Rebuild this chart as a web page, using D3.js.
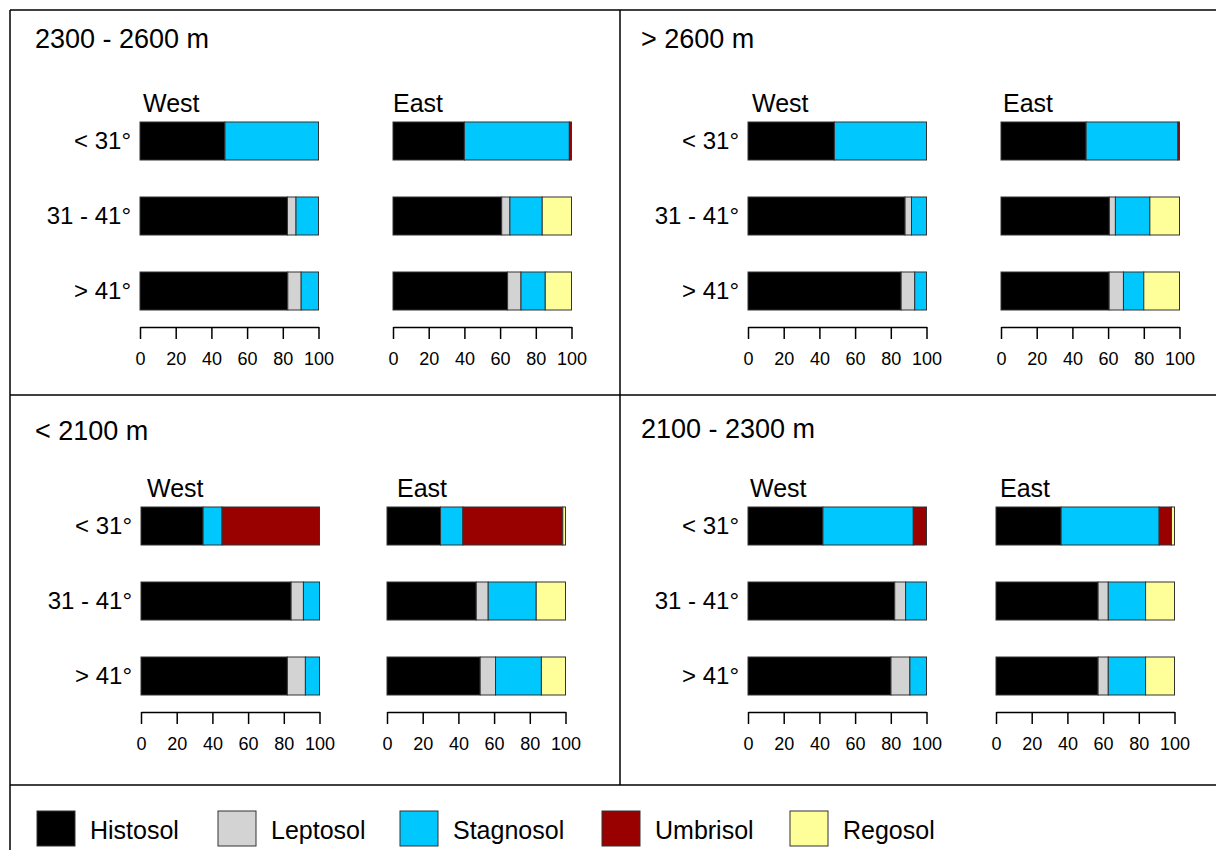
<!DOCTYPE html>
<html lang="en">
<head>
  <meta charset="UTF-8">
  <title>Soil types by altitude, aspect and slope</title>
  <script src="https://d3js.org/d3.v7.min.js"></script>
  <style>
    * { box-sizing: border-box; }
    body {
      margin: 0;
      background: #fff;
      font-family: 'Liberation Sans', Arial, sans-serif;
    }
    svg { display: block; }
    .axis path, .axis line {
      stroke: #000;
      stroke-width: 1.5;
    }
    .axis text {
      font-size: 18px;
      fill: #000;
      font-family: 'Liberation Sans', Arial, sans-serif;
    }
  </style>
</head>
<body>
  <svg id="chart" width="1216" height="850"></svg>

  <script>
    // --- data (percent of plots per soil group) ---
    const soils = ["Histosol", "Leptosol", "Stagnosol", "Umbrisol", "Regosol"];
    const soilColors = ["#000000", "#d3d3d3", "#00c8ff", "#990000", "#ffff99"];
    const slopes = ["< 31°", "31 - 41°", "> 41°"];
    const aspects = ["West", "East"];
    const zones = ["2300 - 2600 m", "> 2600 m", "< 2100 m", "2100 - 2300 m"];
    const tickValues = [0, 20, 40, 60, 80, 100];

    // rows = slope classes, columns = soils (same order as above)
    const z2300West = [[47.6, 0, 52.4, 0, 0], [82.6, 4.8, 12.6, 0, 0], [82.8, 7.5, 9.7, 0, 0]];
    const z2300East = [[40.0, 0, 58.8, 1.2, 0], [60.9, 4.6, 18.1, 0, 16.4], [64.2, 7.5, 13.6, 0, 14.7]];
    const z2600West = [[48.4, 0, 51.6, 0, 0], [88.0, 3.6, 8.4, 0, 0], [85.8, 7.6, 6.6, 0, 0]];
    const z2600East = [[47.7, 0, 51.4, 0.9, 0], [60.7, 3.4, 19.3, 0, 16.6], [60.6, 8.0, 11.4, 0, 20.0]];
    const z2100West = [[34.8, 0, 10.6, 54.6, 0], [84.1, 6.9, 9.0, 0, 0], [82.0, 10.1, 7.9, 0, 0]];
    const z2100East = [[30.0, 0, 12.5, 56.0, 1.5], [50.0, 6.7, 26.9, 0, 16.4], [52.2, 8.6, 25.7, 0, 13.5]];
    const zMidWest = [[42.0, 0, 50.6, 7.4, 0], [82.2, 6.1, 11.7, 0, 0], [80.1, 10.6, 9.3, 0, 0]];
    const zMidEast = [[36.5, 0, 54.9, 6.9, 1.7], [57.2, 5.7, 20.9, 0, 16.2], [57.2, 5.7, 20.9, 0, 16.2]];

    const zoneData = [
      [z2300West, z2300East],
      [z2600West, z2600East],
      [z2100West, z2100East],
      [zMidWest, zMidEast]
    ];

    // --- layout ---
    const panels = [
      { x: 10,  y: 10,  titleX: 35,  titleY: 48,  groupX: [140, 393], labelDx: [3, 0] },
      { x: 619, y: 10,  titleX: 641, titleY: 48,  groupX: [748, 1001], labelDx: [4, 2] },
      { x: 10,  y: 395, titleX: 35,  titleY: 440, groupX: [141, 387], labelDx: [6, 10] },
      { x: 619, y: 395, titleX: 641, titleY: 438, groupX: [748, 996], labelDx: [2, 4] }
    ];
    const barW = 178.5, barH = 38;
    const barTop = [112, 187, 262];   // relative to panel top
    const axisOffset = 317;
    const groupLabelY = 102;

    const svg = d3.select("#chart");

    // frame lines
    const frame = svg.append("g")
      .attr("stroke", "#000")
      .attr("stroke-width", 1.5);
    frame.append("line").attr("x1", 10).attr("y1", 10).attr("x2", 1216).attr("y2", 10);
    frame.append("line").attr("x1", 10).attr("y1", 10).attr("x2", 10).attr("y2", 850);
    frame.append("line").attr("x1", 10).attr("y1", 395).attr("x2", 1216).attr("y2", 395);
    frame.append("line").attr("x1", 10).attr("y1", 785).attr("x2", 1216).attr("y2", 785);
    frame.append("line").attr("x1", 620).attr("y1", 10).attr("x2", 620).attr("y2", 785);

    const stack = d3.stack().keys(d3.range(soils.length));

    panels.forEach((p, pi) => {
      svg.append("text")
        .attr("x", p.titleX)
        .attr("y", p.titleY)
        .attr("font-size", 27)
        .text(zones[pi]);

      const yScale = d3.scaleOrdinal()
        .domain(slopes)
        .range(barTop.map(t => p.y + t));

      // slope labels (left of West group)
      slopes.forEach(s => {
        svg.append("text")
          .attr("x", p.groupX[0] - 9)
          .attr("y", yScale(s) + barH / 2)
          .attr("dy", "0.35em")
          .attr("text-anchor", "end")
          .attr("font-size", 24)
          .text(s);
      });

      aspects.forEach((a, ai) => {
        const x = d3.scaleLinear().domain([0, 100]).range([p.groupX[ai], p.groupX[ai] + barW]);
        const rows = zoneData[pi][ai];
        const series = stack(rows);

        svg.append("text")
          .attr("x", p.groupX[ai] + p.labelDx[ai])
          .attr("y", p.y + groupLabelY)
          .attr("font-size", 25)
          .text(a);

        const g = svg.append("g");
        series.forEach((ser, si) => {
          g.selectAll(null)
            .data(ser.map((d, ri) => ({ d, ri })).filter(o => o.d[1] - o.d[0] > 0))
            .join("rect")
            .attr("x", o => x(o.d[0]))
            .attr("y", o => yScale(slopes[o.ri]))
            .attr("width", o => x(o.d[1]) - x(o.d[0]))
            .attr("height", barH)
            .attr("fill", soilColors[si])
            .attr("stroke", "#333")
            .attr("stroke-width", 1);
        });

        const axis = d3.axisBottom(x)
          .tickValues(tickValues)
          .tickSize(12)
          .tickSizeOuter(0)
          .tickPadding(13);
        svg.append("g")
          .attr("class", "axis")
          .attr("transform", `translate(0,${p.y + axisOffset})`)
          .call(axis);
      });
    });

    // legend
    const legendX = [37, 218, 400, 602, 790];
    const legend = svg.append("g");
    soils.forEach((s, i) => {
      legend.append("rect")
        .attr("x", legendX[i])
        .attr("y", 811)
        .attr("width", 38)
        .attr("height", 35)
        .attr("fill", soilColors[i])
        .attr("stroke", "#333")
        .attr("stroke-width", 1);
      legend.append("text")
        .attr("x", legendX[i] + 53)
        .attr("y", 839)
        .attr("font-size", 25)
        .text(s);
    });
  </script>
</body>
</html>
